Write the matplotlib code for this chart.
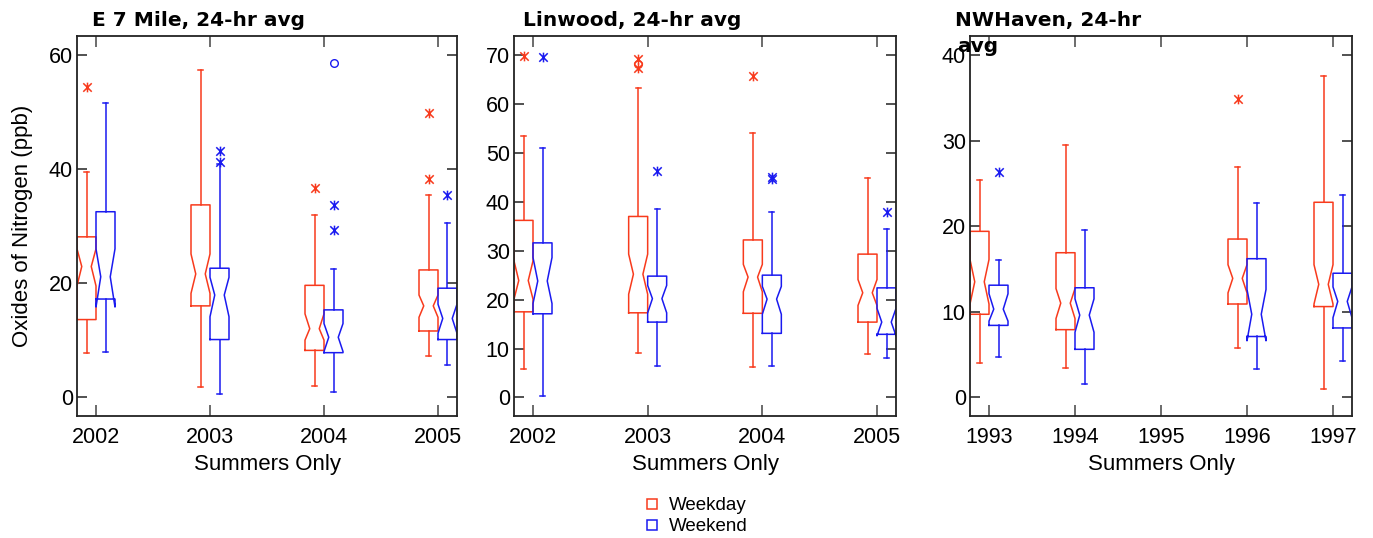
import matplotlib
matplotlib.use("Agg")
import matplotlib.pyplot as plt
from matplotlib.lines import Line2D
from matplotlib.path import Path

plt.rcParams['font.family'] = ['Liberation Sans', 'DejaVu Sans']

RED = '#F83A1C'
BLUE = '#1A1AF0'

# ---------------- E 7 Mile ----------------
e7_years = [2002, 2003, 2004, 2005]
e7_wd_whislo = [7.8, 1.8, 1.9, 7.2]
e7_wd_q1 = [13.6, 16.0, 8.2, 11.6]
e7_wd_cilo = [19.5, 18.2, 10.0, 14.0]
e7_wd_med = [22.9, 21.6, 12.0, 16.0]
e7_wd_cihi = [26.0, 25.1, 14.6, 17.9]
e7_wd_q3 = [28.1, 33.7, 19.6, 22.3]
e7_wd_whishi = [39.4, 57.4, 31.9, 35.5]
e7_wd_fliers = [[54.3], [], [36.6], [49.8, 38.2]]
e7_wd_far = [[], [], [], []]

e7_we_whislo = [7.9, 0.6, 0.9, 5.6]
e7_we_q1 = [17.2, 10.1, 7.8, 10.1]
e7_we_cilo = [15.8, 14.1, 8.0, 11.2]
e7_we_med = [21.1, 17.9, 10.5, 13.8]
e7_we_cihi = [26.0, 21.0, 12.9, 16.3]
e7_we_q3 = [32.5, 22.6, 15.3, 19.1]
e7_we_whishi = [51.6, 40.8, 22.4, 30.6]
e7_we_fliers = [[], [43.2, 41.3], [33.6, 29.3], [35.4]]
e7_we_far = [[], [], [58.6], []]

# ---------------- Linwood ----------------
lw_years = [2002, 2003, 2004, 2005]
lw_wd_whislo = [5.8, 9.0, 6.3, 8.8]
lw_wd_q1 = [17.5, 17.3, 17.2, 15.4]
lw_wd_cilo = [20.1, 21.1, 21.6, 18.8]
lw_wd_med = [23.9, 25.2, 24.6, 21.4]
lw_wd_cihi = [27.9, 29.3, 27.2, 24.1]
lw_wd_q3 = [36.2, 37.0, 32.2, 29.3]
lw_wd_whishi = [53.5, 63.3, 54.0, 44.8]
lw_wd_fliers = [[69.9], [69.2, 67.3], [65.8], []]
lw_wd_far = [[], [68.2], [], []]

lw_we_whislo = [0.3, 6.5, 6.5, 8.0]
lw_we_q1 = [17.1, 15.4, 13.1, 12.9]
lw_we_cilo = [19.2, 17.3, 17.0, 12.6]
lw_we_med = [23.8, 20.2, 20.1, 15.4]
lw_we_cihi = [28.6, 22.9, 22.7, 18.2]
lw_we_q3 = [31.6, 24.8, 25.0, 22.4]
lw_we_whishi = [50.9, 38.5, 38.0, 34.5]
lw_we_fliers = [[69.7], [46.3], [45.0, 44.6], [38.0]]
lw_we_far = [[], [], [], []]

# ---------------- NWHaven ----------------
nw_ticks = [1993, 1994, 1995, 1996, 1997]
nw_years = [1993, 1994, 1996, 1997]
nw_wd_whislo = [4.0, 3.4, 5.8, 1.0]
nw_wd_q1 = [9.7, 7.9, 10.9, 10.6]
nw_wd_cilo = [10.9, 9.2, 12.2, 10.9]
nw_wd_med = [13.5, 11.0, 13.9, 13.2]
nw_wd_cihi = [16.1, 12.7, 15.5, 15.5]
nw_wd_q3 = [19.4, 16.9, 18.5, 22.8]
nw_wd_whishi = [25.4, 29.5, 26.9, 37.6]
nw_wd_fliers = [[], [], [34.9], []]
nw_wd_far = [[], [], [], []]

nw_we_whislo = [4.7, 1.5, 3.3, 4.2]
nw_we_q1 = [8.4, 5.6, 7.1, 8.1]
nw_we_cilo = [8.9, 7.6, 6.6, 9.3]
nw_we_med = [10.3, 9.6, 9.7, 11.2]
nw_we_cihi = [12.1, 11.5, 12.6, 12.9]
nw_we_q3 = [13.1, 12.8, 16.2, 14.5]
nw_we_whishi = [16.0, 19.6, 22.7, 23.6]
nw_we_fliers = [[26.3], [], [], []]
nw_we_far = [[], [], [], []]

# asterisk marker: an "x" with a vertical bar
ASTER = Path([(-1, -1), (1, 1), (-1, 1), (1, -1), (0, -1.15), (0, 1.15)],
             [Path.MOVETO, Path.LINETO, Path.MOVETO, Path.LINETO, Path.MOVETO, Path.LINETO])


def make_stats(lo, q1, cilo, med, cihi, q3, hi, fl):
    return [dict(whislo=a, q1=b, cilo=c, med=d, cihi=e, q3=f, whishi=g, fliers=h)
            for a, b, c, d, e, f, g, h in zip(lo, q1, cilo, med, cihi, q3, hi, fl)]


def draw_group(ax, years, stats, far, offset, width, color, capw):
    pos = [y + offset for y in years]
    ax.bxp(stats, positions=pos, widths=width, shownotches=True, showfliers=True,
           manage_ticks=False, capwidths=capw,
           boxprops=dict(color=color, linewidth=1.1),
           whiskerprops=dict(color=color, linewidth=1.1, linestyle='-'),
           capprops=dict(color=color, linewidth=1.1),
           medianprops=dict(visible=False),
           flierprops=dict(marker=ASTER, markeredgecolor=color, markerfacecolor='none',
                           markersize=7, markeredgewidth=1.1, linestyle='none'))
    for p, vals in zip(pos, far):
        if vals:
            ax.plot([p] * len(vals), vals, linestyle='none', marker='o', markersize=5.5,
                    markerfacecolor='none', markeredgecolor=color, markeredgewidth=1.0)


fig = plt.figure(figsize=(13.73, 5.38), dpi=100)
W, H = 1373.0, 538.0


def add_ax(left_px, right_px):
    return fig.add_axes([left_px / W, (H - 416) / H, (right_px - left_px) / W, 380 / H])


panels = [
    dict(ax=add_ax(77, 457), years=e7_years, ticks=e7_years,
         wd=make_stats(e7_wd_whislo, e7_wd_q1, e7_wd_cilo, e7_wd_med, e7_wd_cihi, e7_wd_q3, e7_wd_whishi, e7_wd_fliers),
         we=make_stats(e7_we_whislo, e7_we_q1, e7_we_cilo, e7_we_med, e7_we_cihi, e7_we_q3, e7_we_whishi, e7_we_fliers),
         wdfar=e7_wd_far, wefar=e7_we_far, ylim=(-3.3, 63.3), yticks=[0, 20, 40, 60]),
    dict(ax=add_ax(514, 896), years=lw_years, ticks=lw_years,
         wd=make_stats(lw_wd_whislo, lw_wd_q1, lw_wd_cilo, lw_wd_med, lw_wd_cihi, lw_wd_q3, lw_wd_whishi, lw_wd_fliers),
         we=make_stats(lw_we_whislo, lw_we_q1, lw_we_cilo, lw_we_med, lw_we_cihi, lw_we_q3, lw_we_whishi, lw_we_fliers),
         wdfar=lw_wd_far, wefar=lw_we_far, ylim=(-3.8, 73.9), yticks=[0, 10, 20, 30, 40, 50, 60, 70]),
    dict(ax=add_ax(970, 1352), years=nw_years, ticks=nw_ticks,
         wd=make_stats(nw_wd_whislo, nw_wd_q1, nw_wd_cilo, nw_wd_med, nw_wd_cihi, nw_wd_q3, nw_wd_whishi, nw_wd_fliers),
         we=make_stats(nw_we_whislo, nw_we_q1, nw_we_cilo, nw_we_med, nw_we_cihi, nw_we_q3, nw_we_whishi, nw_we_fliers),
         wdfar=nw_wd_far, wefar=nw_we_far, ylim=(-2.2, 42.25), yticks=[0, 10, 20, 30, 40]),
]

for p in panels:
    ax = p['ax']
    t = p['ticks']
    span = t[-1] - t[0]
    npx = (ax.get_position().width * W)
    unit_px = (npx - 38.0) / span  # pixels per year
    half = 19.0 / unit_px          # box width in data units
    ax.set_xlim(t[0] - half, t[-1] + half)
    ax.set_ylim(*p['ylim'])
    capw = 5.0 / unit_px
    draw_group(ax, p['years'], p['wd'], p['wdfar'], -half / 2, half, RED, capw)
    draw_group(ax, p['years'], p['we'], p['wefar'], half / 2, half, BLUE, capw)
    ax.set_xticks(t)
    ax.set_xticklabels([str(v) for v in t])
    ax.set_yticks(p['yticks'])
    ax.tick_params(axis='x', direction='in', length=8, width=1.1, pad=8, labelsize=15.5,
                   top=True, bottom=True, color='#444444')
    ax.tick_params(axis='y', direction='in', length=7, width=1.1, pad=3, labelsize=15.5,
                   left=True, right=True, color='#222222')
    for s in ax.spines.values():
        s.set_linewidth(1.3)
        s.set_color('#222222')
    ax.set_xlabel('Summers Only', fontsize=16, labelpad=4)

panels[0]['ax'].set_ylabel('Oxides of Nitrogen (ppb)', fontsize=16, labelpad=11)

TFONT = dict(fontsize=14.5, fontweight='bold', family='DejaVu Sans', ha='left', va='baseline')
fig.text(92 / W, 1 - 26 / H, 'E 7 Mile, 24-hr avg', **TFONT)
fig.text(523 / W, 1 - 26 / H, 'Linwood, 24-hr avg', **TFONT)
fig.text(955 / W, 1 - 26 / H, 'NWHaven, 24-hr', **TFONT)
fig.text(957 / W, 1 - 52 / H, 'avg', **TFONT)

handles = [Line2D([], [], linestyle='none', marker='s', markersize=7, markerfacecolor='none',
                  markeredgecolor=RED, markeredgewidth=1.1),
           Line2D([], [], linestyle='none', marker='s', markersize=7, markerfacecolor='none',
                  markeredgecolor=BLUE, markeredgewidth=1.1)]
fig.legend(handles, ['Weekday', 'Weekend'], loc='upper left', bbox_to_anchor=(644 / W, 1 - 497 / H),
           frameon=False, fontsize=13.5, handlelength=0.9, handletextpad=0.45, labelspacing=0.22,
           borderpad=0, borderaxespad=0)

fig.savefig('out.png', dpi=100)
